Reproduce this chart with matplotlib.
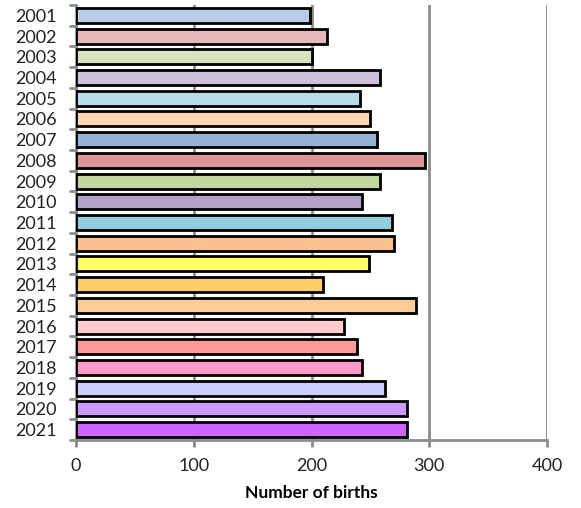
import matplotlib.pyplot as plt
import numpy as np

years = ['2001', '2002', '2003', '2004', '2005', '2006', '2007', '2008', '2009', '2010', '2011',
         '2012', '2013', '2014', '2015', '2016', '2017', '2018', '2019', '2020', '2021']
births = [199, 213, 200, 258, 241, 250, 256, 296, 258, 243, 268,
          270, 249, 210, 289, 228, 239, 243, 262, 281, 281]
colors = ['#B9CDE5', '#E6B9B8', '#D7E4BD', '#CCC1DA', '#B7DEE8', '#FCD5B5', '#95B3D7',
          '#D99694', '#C3D69B', '#B3A2C7', '#93CDDD', '#FAC090', '#FFFF66', '#FFCC66',
          '#FFCC99', '#FFCCCC', '#FF9999', '#FF99CC', '#CCCCFF', '#CC99FF', '#CC66FF']

plt.rcParams['font.family'] = ['Lato', 'DejaVu Sans']
grey = '#8C8C8C'

fig = plt.figure(figsize=(5.81, 5.08), dpi=100)
ax = fig.add_axes([76 / 581, 1 - 440 / 508, (547 - 76) / 581, 435 / 508])

pos = np.arange(len(years))
ax.barh(pos, births, height=0.72, color=colors, edgecolor='black', linewidth=2, zorder=3)

ax.set_xlim(0, 400)
ax.set_ylim(len(years) - 0.5, -0.5)
ax.set_xticks([0, 100, 200, 300, 400])
ax.set_yticks(pos)
ax.set_yticklabels(years)
ax.set_yticks(np.arange(len(years) + 1) - 0.5, minor=True)

ax.grid(axis='x', color=grey, linewidth=2, zorder=0)
for s in ['top', 'right']:
    ax.spines[s].set_visible(False)
for s in ['left', 'bottom']:
    ax.spines[s].set_color(grey)
    ax.spines[s].set_linewidth(2)

ax.tick_params(axis='y', which='major', length=0, pad=14, labelsize=13, labelcolor='#222222')
ax.tick_params(axis='y', which='minor', length=5, width=2, color=grey)
ax.tick_params(axis='x', length=5, width=2, color=grey, pad=8, labelsize=13, labelcolor='#222222')

ax.set_xlabel('Number of births', fontsize=12.5, fontweight='bold', labelpad=8)

fig.savefig('out.png', dpi=100)
